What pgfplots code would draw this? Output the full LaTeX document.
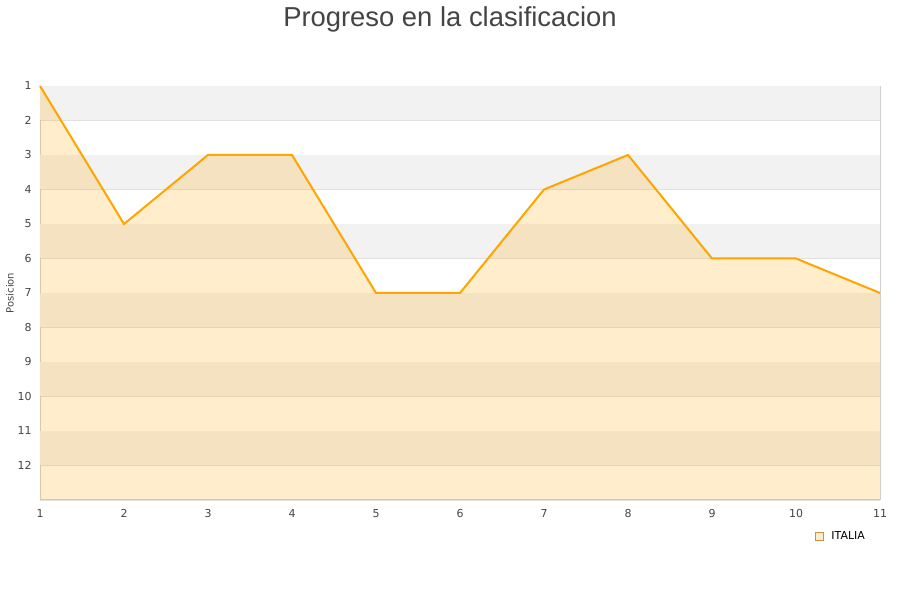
\documentclass[border=0pt]{standalone}
\usepackage{pgfplots}
\pgfplotsset{compat=1.18}
\usepackage{fontspec}
\setmainfont{DejaVu Sans}
\newfontfamily\titlefont{Liberation Sans}

\definecolor{bandgray}{HTML}{F2F2F2}
\definecolor{gridgray}{HTML}{E0E0E0}
\definecolor{axisgray}{HTML}{D0D0D0}
\definecolor{ticktext}{HTML}{444444}
\definecolor{lineorange}{HTML}{FFA500}
\definecolor{legfill}{HTML}{FEECCA}
\definecolor{legdraw}{HTML}{C8944A}

\begin{document}
\begin{tikzpicture}[x=1bp,y=1bp]
\path[use as bounding box] (0,0) rectangle (900,600);
\node[font=\titlefont\fontsize{27.5}{32}\selectfont, text=ticktext] at (450,581) {Progreso en la clasificacion};
\begin{axis}[
  at={(40bp,100bp)}, anchor=south west,
  width=840bp, height=414bp, scale only axis,
  xmin=1, xmax=11, ymin=1, ymax=13,
  y dir=reverse,
  xtick={1,...,11}, ytick={1,...,12},
  extra y ticks={13}, extra y tick labels={},
  extra y tick style={grid=major, tick style={draw=none}},
  tick style={draw=none},
  ymajorgrids, grid style={gridgray, line width=0.6bp},
  axis line style={axisgray, line width=1bp},
  axis x line*=bottom,
  axis y line*=left,
  /pgf/number format/assume math mode=true,
  ticklabel style={font=\fontsize{11}{13}\selectfont, text=ticktext},
  xticklabel style={yshift=-6bp},
  yticklabel style={xshift=-5bp},
  ylabel={Posicion},
  ylabel style={font=\fontsize{10}{12}\selectfont, text=ticktext,
    at={(axis description cs:-0.0357,0.5)}, anchor=center},
  legend style={at={(axis description cs:1,0)}, anchor=north east, xshift=-10bp, yshift=-27bp,
    draw=none, fill=none, font=\fontsize{11}{13}\selectfont,
    legend cell align=left},
  clip=false,
]
% alternating horizontal bands
\pgfplotsinvokeforeach{1,3,5,7,9,11}{
  \addplot[draw=none, fill=bandgray, forget plot] coordinates {(1,#1) (11,#1) (11,#1+1) (1,#1+1)} --cycle;
}
% right border
\addplot[axisgray, line width=1bp, forget plot] coordinates {(11,1) (11,13)};
% area under the position line
\addplot[draw=none, fill=lineorange, fill opacity=0.2, forget plot]
  coordinates {(1,1) (2,5) (3,3) (4,3) (5,7) (6,7) (7,4) (8,3) (9,6) (10,6) (11,7) (11,13) (1,13)} --cycle;
% position line
\addplot[lineorange, line width=2bp, forget plot]
  coordinates {(1,1) (2,5) (3,3) (4,3) (5,7) (6,7) (7,4) (8,3) (9,6) (10,6) (11,7)};
\addlegendimage{legend image code/.code={
  \draw[draw=legdraw, fill=legfill, line width=0.6bp] (0bp,-4bp) rectangle (8bp,4bp);
  \path[draw=none, fill=none] (14bp,0bp) circle (0.1bp);}}
\addlegendentry{ITALIA}
\end{axis}
\end{tikzpicture}
\end{document}
